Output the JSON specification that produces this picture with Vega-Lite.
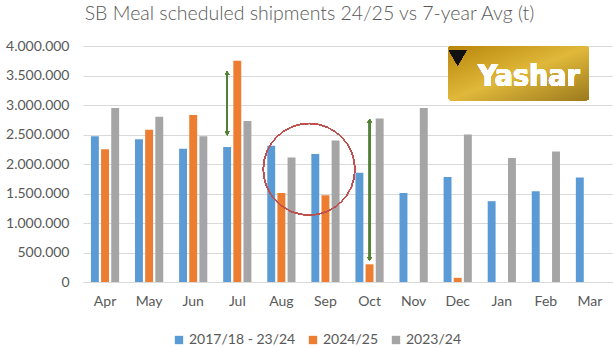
{
  "$schema": "https://vega.github.io/schema/vega-lite/v6.json",
  "width": 529,
  "height": 236,
  "autosize": {"type": "none"},
  "padding": {"left": 83, "top": 46, "right": 1, "bottom": 66},
  "background": "white",
  "config": {
    "locale": {"number": {"decimal": ",", "thousands": ".", "grouping": [3], "currency": ["", ""]}},
    "view": {"stroke": null},
    "font": "Lato",
    "axisY": {
      "labelOverlap": false,
      "tickCount": 8,
      "labelFont": "Lato",
      "labelFontSize": 14,
      "labelColor": "#595959",
      "labelPadding": 14,
      "ticks": false,
      "domain": false,
      "gridColor": "#D9D9D9",
      "gridWidth": 1
    }
  },
  "title": {
    "text": "SB Meal scheduled shipments 24/25 vs 7-year Avg (t)",
    "font": "Lato",
    "fontSize": 19.5,
    "fontWeight": 300,
    "color": "#595959",
    "anchor": "middle",
    "dx": -38,
    "offset": 15
  },
  "data": {
    "values": [
      {"month": "Apr", "series": "2017/18 - 23/24", "value": 2470000},
      {"month": "Apr", "series": "2024/25", "value": 2250000},
      {"month": "Apr", "series": "2023/24", "value": 2950000},
      {"month": "May", "series": "2017/18 - 23/24", "value": 2420000},
      {"month": "May", "series": "2024/25", "value": 2580000},
      {"month": "May", "series": "2023/24", "value": 2800000},
      {"month": "Jun", "series": "2017/18 - 23/24", "value": 2260000},
      {"month": "Jun", "series": "2024/25", "value": 2830000},
      {"month": "Jun", "series": "2023/24", "value": 2470000},
      {"month": "Jul", "series": "2017/18 - 23/24", "value": 2290000},
      {"month": "Jul", "series": "2024/25", "value": 3750000},
      {"month": "Jul", "series": "2023/24", "value": 2730000},
      {"month": "Aug", "series": "2017/18 - 23/24", "value": 2310000},
      {"month": "Aug", "series": "2024/25", "value": 1510000},
      {"month": "Aug", "series": "2023/24", "value": 2110000},
      {"month": "Sep", "series": "2017/18 - 23/24", "value": 2170000},
      {"month": "Sep", "series": "2024/25", "value": 1470000},
      {"month": "Sep", "series": "2023/24", "value": 2400000},
      {"month": "Oct", "series": "2017/18 - 23/24", "value": 1850000},
      {"month": "Oct", "series": "2024/25", "value": 300000},
      {"month": "Oct", "series": "2023/24", "value": 2770000},
      {"month": "Nov", "series": "2017/18 - 23/24", "value": 1510000},
      {"month": "Nov", "series": "2023/24", "value": 2950000},
      {"month": "Dec", "series": "2017/18 - 23/24", "value": 1780000},
      {"month": "Dec", "series": "2024/25", "value": 70000},
      {"month": "Dec", "series": "2023/24", "value": 2500000},
      {"month": "Jan", "series": "2017/18 - 23/24", "value": 1370000},
      {"month": "Jan", "series": "2023/24", "value": 2100000},
      {"month": "Feb", "series": "2017/18 - 23/24", "value": 1540000},
      {"month": "Feb", "series": "2023/24", "value": 2210000},
      {"month": "Mar", "series": "2017/18 - 23/24", "value": 1770000}
    ]
  },
  "encoding": {
    "x": {
      "field": "month",
      "type": "nominal",
      "sort": ["Apr", "May", "Jun", "Jul", "Aug", "Sep", "Oct", "Nov", "Dec", "Jan", "Feb", "Mar"],
      "scale": {"paddingInner": 0.36, "paddingOuter": 0.18},
      "axis": {
        "title": null,
        "labelAngle": 0,
        "labelFont": "Lato",
        "labelFontSize": 14,
        "labelColor": "#595959",
        "labelPadding": 12,
        "ticks": false,
        "domainColor": "#D9D9D9",
        "grid": false
      }
    }
  },
  "layer": [
    {
      "mark": {"type": "bar"},
      "encoding": {
        "xOffset": {
          "field": "series",
          "type": "nominal",
          "sort": ["2017/18 - 23/24", "2024/25", "2023/24"],
          "scale": {"paddingInner": 0.22}
        },
        "y": {
          "field": "value",
          "type": "quantitative",
          "scale": {"domain": [0, 4000000]},
          "axis": {
            "title": null,
            "format": ",.0f",
            "tickCount": 8,
            "labelOverlap": false
          }
        },
        "color": {
          "field": "series",
          "type": "nominal",
          "sort": ["2017/18 - 23/24", "2024/25", "2023/24"],
          "scale": {
            "domain": ["2017/18 - 23/24", "2024/25", "2023/24"],
            "range": ["#5B9BD5", "#ED7D31", "#A5A5A5"]
          },
          "legend": {
            "title": null,
            "orient": "none",
            "direction": "horizontal",
            "legendX": 89,
            "legendY": 287,
            "symbolType": "square",
            "symbolSize": 70,
            "symbolStrokeWidth": 0,
            "labelFont": "Lato",
            "labelFontSize": 14,
            "labelColor": "#595959",
            "columnPadding": 10,
            "labelOffset": 3
          }
        }
      }
    },
    {
      "mark": {"type": "rule", "color": "#548235", "strokeWidth": 1.2},
      "encoding": {
        "x": {"datum": "Jul"},
        "xOffset": {"datum": "2017/18 - 23/24"},
        "y": {"datum": 2500000},
        "y2": {"datum": 3560000}
      }
    },
    {
      "mark": {"type": "rule", "color": "#548235", "strokeWidth": 1.2},
      "encoding": {
        "x": {"datum": "Oct"},
        "xOffset": {"datum": "2024/25"},
        "y": {"datum": 370000},
        "y2": {"datum": 2750000}
      }
    },
    {
      "mark": {"type": "point", "shape": "triangle-up", "filled": true, "color": "#548235", "size": 18, "opacity": 1},
      "encoding": {
        "x": {"datum": "Jul"},
        "xOffset": {"datum": "2017/18 - 23/24"},
        "y": {"datum": 3540000}
      }
    },
    {
      "mark": {"type": "point", "shape": "triangle-down", "filled": true, "color": "#548235", "size": 18, "opacity": 1},
      "encoding": {
        "x": {"datum": "Jul"},
        "xOffset": {"datum": "2017/18 - 23/24"},
        "y": {"datum": 2520000}
      }
    },
    {
      "mark": {"type": "point", "shape": "triangle-up", "filled": true, "color": "#548235", "size": 18, "opacity": 1},
      "encoding": {
        "x": {"datum": "Oct"},
        "xOffset": {"datum": "2024/25"},
        "y": {"datum": 2730000}
      }
    },
    {
      "mark": {"type": "point", "shape": "triangle-down", "filled": true, "color": "#548235", "size": 18, "opacity": 1},
      "encoding": {
        "x": {"datum": "Oct"},
        "xOffset": {"datum": "2024/25"},
        "y": {"datum": 390000}
      }
    },
    {
      "mark": {"type": "point", "shape": "circle", "filled": false, "color": "#C0504D", "strokeWidth": 1, "size": 8400, "opacity": 1},
      "encoding": {
        "x": {"datum": "Sep", "bandPosition": -0.08},
        "y": {"datum": 1910000}
      }
    },
    {
      "mark": {
        "type": "rect",
        "cornerRadius": 2,
        "color": {
          "gradient": "linear",
          "x1": 0, "y1": 0, "x2": 1, "y2": 1,
          "stops": [
            {"offset": 0, "color": "#B8860B"},
            {"offset": 0.5, "color": "#E0B83A"},
            {"offset": 1, "color": "#9C7A1E"}
          ]
        }
      },
      "encoding": {
        "x": {"datum": "Dec", "bandPosition": 0.18},
        "x2": {"datum": "Mar", "bandPosition": 0.45},
        "y": {"datum": 3080000},
        "y2": {"datum": 3990000}
      }
    },
    {
      "mark": {"type": "point", "shape": "triangle-down", "filled": true, "color": "#111111", "size": 300, "opacity": 1},
      "encoding": {
        "x": {"datum": "Dec", "bandPosition": 0.5},
        "y": {"datum": 3800000}
      }
    },
    {
      "mark": {"type": "text", "text": "Yashar", "font": "DejaVu Sans Condensed", "fontWeight": "bold", "fontSize": 30, "color": "white", "align": "center", "baseline": "middle"},
      "encoding": {
        "x": {"datum": "Feb", "bandPosition": -0.1},
        "y": {"datum": 3480000}
      }
    }
  ]
}
